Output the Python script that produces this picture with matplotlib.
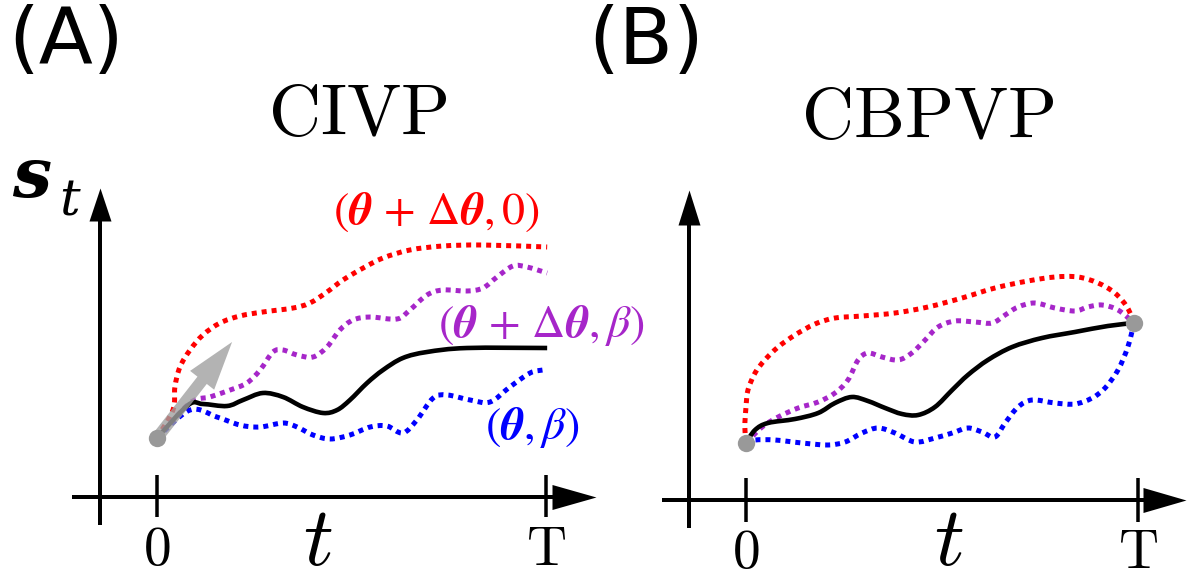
import matplotlib
matplotlib.use("Agg")
import matplotlib.pyplot as plt
from matplotlib.path import Path
from matplotlib.patches import PathPatch

# ---------------- data (t normalised so that 0 -> "0", 1 -> "T") ----------------
# Panel A : CIVP
civp_black_t = [0.000, 0.080, 0.118, 0.180, 0.221, 0.272, 0.324, 0.375, 0.427, 0.463, 0.496,
                0.540, 0.581, 0.632, 0.694, 0.797, 1.003]
civp_black_s = [0.59, 0.92, 0.93, 0.91, 0.97, 1.04, 1.00, 0.90, 0.84, 0.87, 0.97,
                1.14, 1.27, 1.39, 1.45, 1.49, 1.49]

civp_red_t = [0.000, 0.041, 0.046, 0.059, 0.085, 0.118, 0.162, 0.213, 0.272, 0.350, 0.393,
              0.437, 0.478, 0.530, 0.581, 0.650, 0.735, 0.838, 1.003]
civp_red_s = [0.59, 0.87, 1.10, 1.30, 1.47, 1.62, 1.74, 1.81, 1.85, 1.89, 1.94,
              2.05, 2.17, 2.29, 2.39, 2.47, 2.51, 2.52, 2.50]

civp_purple_t = [0.000, 0.085, 0.136, 0.188, 0.231, 0.265, 0.298, 0.324, 0.360, 0.401, 0.437,
                 0.470, 0.504, 0.548, 0.617, 0.650, 0.694, 0.735, 0.797, 0.838, 0.874,
                 0.915, 0.951, 1.003]
civp_purple_s = [0.59, 0.94, 1.00, 1.07, 1.14, 1.27, 1.45, 1.47, 1.42, 1.40, 1.50,
                 1.67, 1.77, 1.80, 1.78, 1.87, 2.02, 2.07, 2.06, 2.09, 2.20,
                 2.31, 2.30, 2.24]

civp_blue_t = [0.000, 0.085, 0.154, 0.213, 0.265, 0.324, 0.360, 0.401, 0.445, 0.496, 0.548,
               0.591, 0.632, 0.668, 0.710, 0.746, 0.805, 0.856, 0.907, 0.959, 0.992]
civp_blue_s = [0.59, 0.87, 0.80, 0.72, 0.70, 0.74, 0.70, 0.62, 0.58, 0.62, 0.70,
               0.71, 0.64, 0.77, 0.99, 1.02, 0.97, 0.95, 1.10, 1.24, 1.27]

civp_start = (0.0, 0.59)
civp_grad_tip = (0.193, 1.55)

# Panel B : CBPVP
cbpvp_black_t = [0.000, 0.023, 0.056, 0.125, 0.184, 0.227, 0.270, 0.311, 0.355, 0.398, 0.439,
                 0.482, 0.526, 0.566, 0.617, 0.679, 0.755, 0.839, 0.923, 0.990]
cbpvp_black_s = [0.57, 0.70, 0.77, 0.81, 0.87, 0.97, 1.03, 0.99, 0.92, 0.86, 0.85,
                 0.93, 1.10, 1.25, 1.40, 1.53, 1.62, 1.68, 1.74, 1.77]

cbpvp_red_t = [0.000, -0.003, 0.000, 0.005, 0.023, 0.048, 0.082, 0.125, 0.176, 0.227, 0.296,
               0.380, 0.464, 0.551, 0.635, 0.719, 0.788, 0.847, 0.898, 0.941, 0.972, 0.990]
cbpvp_red_s = [0.57, 0.73, 0.93, 1.10, 1.27, 1.40, 1.53, 1.65, 1.76, 1.82, 1.84,
               1.87, 1.93, 2.02, 2.12, 2.19, 2.23, 2.23, 2.17, 2.07, 1.93, 1.77]

cbpvp_purple_t = [0.000, 0.041, 0.082, 0.133, 0.184, 0.227, 0.260, 0.286, 0.311, 0.347, 0.388,
                  0.423, 0.457, 0.490, 0.533, 0.584, 0.628, 0.661, 0.694, 0.737, 0.788,
                  0.839, 0.872, 0.908, 0.949, 0.990]
cbpvp_purple_s = [0.57, 0.73, 0.83, 0.92, 0.98, 1.07, 1.20, 1.40, 1.47, 1.43, 1.40,
                  1.47, 1.60, 1.73, 1.79, 1.78, 1.77, 1.85, 1.93, 1.97, 1.92,
                  1.89, 1.93, 1.95, 1.90, 1.77]

cbpvp_blue_t = [0.000, 0.023, 0.074, 0.143, 0.209, 0.253, 0.296, 0.337, 0.380, 0.431, 0.482,
                0.526, 0.566, 0.602, 0.635, 0.661, 0.694, 0.730, 0.788, 0.839, 0.883,
                0.916, 0.949, 0.974, 0.990]
cbpvp_blue_s = [0.57, 0.60, 0.60, 0.57, 0.55, 0.58, 0.67, 0.72, 0.67, 0.58, 0.62,
                0.67, 0.72, 0.68, 0.63, 0.77, 0.93, 1.00, 0.97, 0.96, 1.02,
                1.12, 1.30, 1.53, 1.77]

cbpvp_start = (0.0, 0.57)
cbpvp_end = (0.990, 1.77)

tick_labels = [r"$0$", r"$\mathrm{T}$"]
titles = [r"$\mathrm{CIVP}$", r"$\mathrm{CBPVP}$"]
panel_tags = ["(A)", "(B)"]
label_red = r"$(\boldsymbol{\theta}\,+\,\Delta\boldsymbol{\theta},0)$"
label_purple = r"$(\boldsymbol{\theta}\,+\,\Delta\boldsymbol{\theta},\beta)$"
label_blue = r"$(\boldsymbol{\theta},\beta)$"

# ---------------- styling ----------------
RED = "#ff0000"
PURPLE = "#a626c9"
BLUE = "#0000ff"
DOT = "#999999"
PX = 0.72  # points per pixel at dpi 100

fig = plt.figure(figsize=(11.88, 5.80), dpi=100)

axA = fig.add_axes([0.0, 0.0, 0.5, 1.0])
axA.set_xlim(-157 / 389, (594 - 157) / 389)
axA.set_ylim(-0.83, 4.97)
axB = fig.add_axes([0.5, 0.0, 0.5, 1.0])
axB.set_xlim((594 - 746) / 392, (1188 - 746) / 392)
axB.set_ylim(-0.80, 5.00)
for ax in (axA, axB):
    ax.axis("off")


def smooth_curve(ax, xs, ys, dotted, color, lw_px, zorder):
    """Smooth curve passing through every read point (Catmull-Rom as Bezier path)."""
    pts = list(zip(xs, ys))
    n = len(pts)
    verts = [pts[0]]
    codes = [Path.MOVETO]
    for i in range(n - 1):
        p0 = pts[i - 1] if i > 0 else pts[i]
        p1 = pts[i]
        p2 = pts[i + 1]
        p3 = pts[i + 2] if i + 2 < n else pts[i + 1]
        c1 = (p1[0] + (p2[0] - p0[0]) / 6, p1[1] + (p2[1] - p0[1]) / 6)
        c2 = (p2[0] - (p3[0] - p1[0]) / 6, p2[1] - (p3[1] - p1[1]) / 6)
        verts += [c1, c2, p2]
        codes += [Path.CURVE4] * 3
    patch = PathPatch(Path(verts, codes), facecolor="none", edgecolor=color,
                      lw=lw_px * PX, zorder=zorder, capstyle="butt", joinstyle="round",
                      linestyle=(0, (1, 1)) if dotted else "-")
    ax.add_patch(patch)


def head(ax, x, y, direction, length_px, halfwidth_px):
    r = halfwidth_px / length_px
    if direction == "up":
        verts = [(-r, -1.0), (r, -1.0), (0.0, 0.0), (-r, -1.0)]
    else:
        verts = [(-1.0, -r), (-1.0, r), (0.0, 0.0), (-1.0, -r)]
    ax.plot([x], [y], marker=verts, ms=2 * length_px * PX, color="k",
            mew=0, clip_on=False, zorder=3, linestyle="none")


def axes_frame(ax, vx, vy0, vy1, vlen, vhw, hx0, hx1, hlen, hhw, xscale, tick_half):
    ax.plot([vx, vx], [vy0, vy1 - vlen / 100 + 0.02], color="k", lw=4 * PX,
            solid_capstyle="butt", clip_on=False, zorder=2)
    head(ax, vx, vy1, "up", vlen, vhw)
    ax.plot([hx0, hx1 - hlen / xscale + 0.005], [0, 0], color="k", lw=4 * PX,
            solid_capstyle="butt", clip_on=False, zorder=2)
    head(ax, hx1, 0, "right", hlen, hhw)
    for tt in (0.0, 1.0):
        ax.plot([tt, tt], [-tick_half[0], tick_half[1]], color="k", lw=3.5 * PX,
                solid_capstyle="butt", clip_on=False, zorder=2)


axes_frame(axA, (100 - 157) / 389, -0.28, 3.09, 33, 11, (72 - 157) / 389, (596 - 157) / 389,
           44, 12.5, 389, (0.20, 0.22))
axes_frame(axB, (689 - 746) / 392, -0.28, 3.10, 35, 11, (662 - 746) / 392, (1186 - 746) / 392,
           43, 12.5, 392, (0.22, 0.22))

# ---- Panel A curves ----
smooth_curve(axA, civp_red_t, civp_red_s, True, RED, 5, 4)
smooth_curve(axA, civp_purple_t, civp_purple_s, True, PURPLE, 5, 4)
smooth_curve(axA, civp_blue_t, civp_blue_s, True, BLUE, 5, 4)
smooth_curve(axA, civp_black_t, civp_black_s, False, "k", 4.6, 5)
axA.annotate("", xy=civp_grad_tip, xytext=civp_start,
             arrowprops=dict(arrowstyle="simple,head_length=3.5,head_width=2.2,tail_width=0.85",
                             mutation_scale=10, color="#a0a0a0", alpha=0.8, lw=0,
                             shrinkA=0, shrinkB=0),
             zorder=6)
axA.plot([civp_start[0]], [civp_start[1]], "o", ms=12.5, color=DOT, mew=0, zorder=7)

# ---- Panel B curves ----
smooth_curve(axB, cbpvp_red_t, cbpvp_red_s, True, RED, 5, 4)
smooth_curve(axB, cbpvp_purple_t, cbpvp_purple_s, True, PURPLE, 5, 4)
smooth_curve(axB, cbpvp_blue_t, cbpvp_blue_s, True, BLUE, 5, 4)
smooth_curve(axB, cbpvp_black_t, cbpvp_black_s, False, "k", 4.6, 5)
axB.plot([cbpvp_start[0], cbpvp_end[0]], [cbpvp_start[1], cbpvp_end[1]], "o", ms=12.5,
         color=DOT, mew=0, zorder=7, linestyle="none")

# ---- texts ----
cm = dict(math_fontfamily="cm")
for ax, tpos, tb, title, tx in ((axA, 0.414, -0.68, titles[0], 0.517),
                                (axB, 0.518, -0.65, titles[1], 0.464)):
    ax.text(0, -0.68, tick_labels[0], ha="center", va="baseline", fontsize=40, **cm)
    ax.text(1.0, -0.68, tick_labels[1], ha="center", va="baseline", fontsize=40, **cm)
    ax.text(tpos, tb, r"$t$", ha="center", va="baseline", fontsize=60, **cm)
    ax.text(tx, 3.62, title, ha="center", va="baseline", fontsize=52, **cm)

fig.text(8 / 1188, 1 - 64 / 580, panel_tags[0], fontsize=57, family="DejaVu Sans",
         ha="left", va="baseline")
fig.text(588 / 1188, 1 - 64 / 580, panel_tags[1], fontsize=57, family="DejaVu Sans",
         ha="left", va="baseline")

# s_t label (bold italic s, italic subscript t)
axA.text((12 - 157) / 389, 3.00, "s", ha="left", va="baseline", fontsize=50,
         family="DejaVu Serif", fontweight="bold", fontstyle="italic")
axA.text((59 - 157) / 389, 2.82, "t", ha="left", va="baseline", fontsize=37,
         family="DejaVu Serif", fontstyle="italic")

stix = dict(math_fontfamily="stix", ha="center", va="center", fontsize=33)
axA.text(0.717, 2.86, label_red, color=RED, **stix)
axA.text(0.987, 1.72, label_purple, color=PURPLE, clip_on=False, **stix)
axA.text(0.964, 0.70, label_blue, color=BLUE, **stix)

fig.savefig("out.png", dpi=100)
